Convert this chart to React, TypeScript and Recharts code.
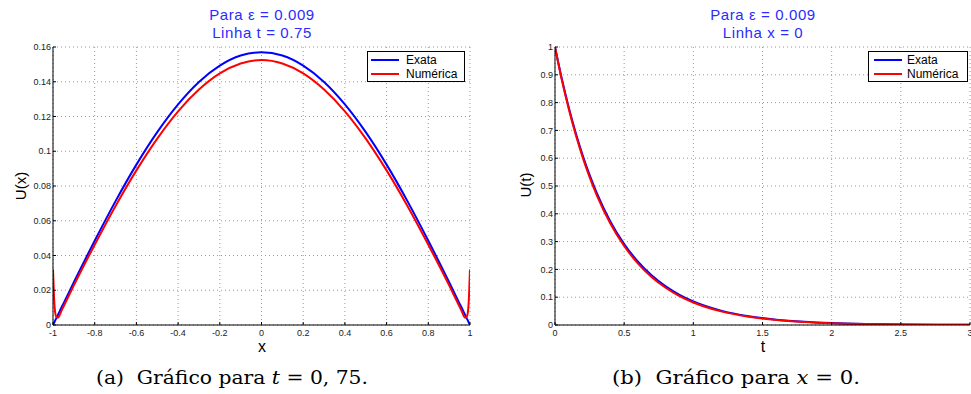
import React from 'react';
import { LineChart, Line, XAxis, YAxis, CartesianGrid, Legend, Label } from 'recharts';

// linha t = 0.75
const xPoints = [-1, -0.995, -0.99, -0.985, -0.976, -0.96, -0.95, -0.9, -0.8, -0.7, -0.6, -0.5, -0.4, -0.3, -0.2, -0.1, 0,
  0.1, 0.2, 0.3, 0.4, 0.5, 0.6, 0.7, 0.8, 0.9, 0.95, 0.96, 0.976, 0.985, 0.99, 0.995, 1];
const exataX = [0, 0.0012, 0.0025, 0.0037, 0.0059, 0.0099, 0.0123, 0.0246, 0.0485, 0.0713, 0.0923, 0.111, 0.127, 0.1399, 0.1493, 0.1551, 0.157,
  0.1551, 0.1493, 0.1399, 0.127, 0.111, 0.0923, 0.0713, 0.0485, 0.0246, 0.0123, 0.0099, 0.0059, 0.0037, 0.0025, 0.0012, 0];
const numericaX = [0.032, 0.016, 0.0075, 0.0048, 0.0042, 0.008, 0.0105, 0.0228, 0.0462, 0.0685, 0.089, 0.1073, 0.123, 0.1355, 0.1448, 0.1505, 0.1525,
  0.1505, 0.1448, 0.1355, 0.123, 0.1073, 0.089, 0.0685, 0.0462, 0.0228, 0.0105, 0.008, 0.0042, 0.0048, 0.0075, 0.016, 0.032];
const xTicks = [-1, -0.8, -0.6, -0.4, -0.2, 0, 0.2, 0.4, 0.6, 0.8, 1];
const uxTicks = [0, 0.02, 0.04, 0.06, 0.08, 0.1, 0.12, 0.14, 0.16];

// linha x = 0
const tPoints = [0, 0.05, 0.1, 0.15, 0.2, 0.25, 0.3, 0.4, 0.5, 0.6, 0.7, 0.8, 0.9, 1, 1.2, 1.4, 1.6, 1.8, 2, 2.25, 2.5, 2.75, 3];
const exataT = [1, 0.8839, 0.7814, 0.6907, 0.6105, 0.5397, 0.4771, 0.3727, 0.2912, 0.2276, 0.1778, 0.139, 0.1086, 0.0848,
  0.0518, 0.0316, 0.0193, 0.0118, 0.0072, 0.0039, 0.0021, 0.0011, 0.0006];
const numericaT = [1, 0.88, 0.776, 0.684, 0.603, 0.532, 0.469, 0.365, 0.284, 0.221, 0.172, 0.134, 0.104, 0.081,
  0.049, 0.03, 0.018, 0.011, 0.0066, 0.0036, 0.0019, 0.001, 0.0005];
const tTicks = [0, 0.5, 1, 1.5, 2, 2.5, 3];
const utTicks = [0, 0.1, 0.2, 0.3, 0.4, 0.5, 0.6, 0.7, 0.8, 0.9, 1];

const dataX = xPoints.map((x, i) => ({ x, exata: exataX[i], numerica: numericaX[i] }));
const dataT = tPoints.map((t, i) => ({ t, exata: exataT[i], numerica: numericaT[i] }));

const SANS = 'Liberation Sans, Arial, sans-serif';
const SERIF = "'DejaVu Serif', serif";
const tickStyle = { fontSize: 9, fill: '#222', fontFamily: SANS };

function BoxLegend({ width, lineLeft }: { width: number; lineLeft: number }) {
  const rows = [
    { name: 'Exata', color: '#0000ff', y: 9 },
    { name: 'Numérica', color: '#ff0000', y: 23 },
  ];
  return (
    <div style={{ position: 'relative', width, height: 31, border: '1.5px solid #000', boxSizing: 'border-box', background: '#fff', fontFamily: SANS, fontSize: 12 }}>
      {rows.map((r) => (
        <React.Fragment key={r.name}>
          <div style={{ position: 'absolute', left: lineLeft, top: r.y - 2, width: 28, height: 2, background: r.color }} />
          <div style={{ position: 'absolute', left: 38, top: r.y - 8, lineHeight: '14px', color: '#000' }}>{r.name}</div>
        </React.Fragment>
      ))}
    </div>
  );
}

const yLabel = (text: string, cx: number, cy: number) => (
  <Label
    content={() => (
      <text x={cx} y={cy} transform={`rotate(-90 ${cx} ${cy})`} textAnchor="middle" dominantBaseline="central"
        fontFamily={SANS} fontSize={15} fill="#000">{text}</text>
    )}
  />
);

const xLabel = (text: string, cx: number, cy: number) => (
  <Label
    content={() => (
      <text x={cx} y={cy} textAnchor="middle" dominantBaseline="central" fontFamily={SANS} fontSize={16} fill="#000">{text}</text>
    )}
  />
);

function Title({ cx, lines }: { cx: number; lines: string[] }) {
  return (
    <div style={{ position: 'absolute', left: cx - 100, top: 6, width: 200, textAlign: 'center', color: '#2b2bff', fontFamily: SANS, fontSize: 15, lineHeight: '18px', letterSpacing: 0.6 }}>
      {lines.map((l) => <div key={l}>{l}</div>)}
    </div>
  );
}

function Caption({ x, width, tag, variable, value }: { x: number; width: number; tag: string; variable: string; value: string }) {
  return (
    <text x={x} y={384} fontFamily={SERIF} fontSize={19} fill="#000" textLength={width} lengthAdjust="spacingAndGlyphs">
      {`(${tag})\u00a0\u00a0Gráfico para `}
      <tspan fontStyle="italic">{variable}</tspan>
      {` = ${value}`}
    </text>
  );
}

export default function App() {
  return (
    <div style={{ position: 'absolute', left: 0, top: 0, width: 971, height: 394, background: '#fff', overflow: 'hidden' }}>
      <div style={{ position: 'absolute', left: 0, top: 0 }}>
        <LineChart width={490} height={394} data={dataX} margin={{ top: 47, right: 20, bottom: 29, left: 0 }}>
          <CartesianGrid stroke="#999" strokeDasharray="1 3" />
          <XAxis dataKey="x" type="number" domain={[-1, 1]} ticks={xTicks} interval={0} tick={tickStyle}
            tickSize={-3} tickMargin={8} height={40} stroke="#000" allowDataOverflow label={xLabel('x', 262, 346)} />
          <YAxis type="number" domain={[0, 0.16]} ticks={uxTicks} interval={0} tick={tickStyle}
            tickSize={-3} tickMargin={5} width={53} stroke="#000" allowDataOverflow label={yLabel('U(x)', 20, 186)} />
          <Legend layout="vertical" align="center" verticalAlign="middle" wrapperStyle={{ left: 367, top: 51, width: 98, height: 31 }}
            content={() => <BoxLegend width={98} lineLeft={3} />} />
          <Line type="monotone" dataKey="exata" name="Exata" stroke="#0000ff" strokeWidth={2} dot={false} isAnimationActive={false} />
          <Line type="monotone" dataKey="numerica" name="Numérica" stroke="#ff0000" strokeWidth={2} dot={false} isAnimationActive={false} />
        </LineChart>
      </div>
      <div style={{ position: 'absolute', left: 490, top: 0 }}>
        <LineChart width={481} height={394} data={dataT} margin={{ top: 47, right: 1, bottom: 29, left: 0 }}>
          <CartesianGrid stroke="#999" strokeDasharray="1 3" />
          <XAxis dataKey="t" type="number" domain={[0, 3]} ticks={tTicks} interval={0} tick={tickStyle}
            tickSize={-3} tickMargin={8} height={40} stroke="#000" allowDataOverflow label={xLabel('t', 273, 346)} />
          <YAxis type="number" domain={[0, 1]} ticks={utTicks} interval={0} tick={tickStyle}
            tickSize={-3} tickMargin={5} width={65} stroke="#000" allowDataOverflow label={yLabel('U(t)', 35, 185)} />
          <Legend layout="vertical" align="center" verticalAlign="middle" wrapperStyle={{ left: 378, top: 51, width: 100, height: 31 }}
            content={() => <BoxLegend width={100} lineLeft={5} />} />
          <Line type="monotone" dataKey="exata" name="Exata" stroke="#0000ff" strokeWidth={2} dot={false} isAnimationActive={false} />
          <Line type="monotone" dataKey="numerica" name="Numérica" stroke="#ff0000" strokeWidth={2} dot={false} isAnimationActive={false} />
        </LineChart>
      </div>
      <Title cx={262} lines={['Para ε = 0.009', 'Linha t = 0.75']} />
      <Title cx={763} lines={['Para ε = 0.009', 'Linha x = 0']} />
      <svg width={971} height={394} style={{ position: 'absolute', left: 0, top: 0, pointerEvents: 'none' }}>
        <Caption x={96} width={272} tag="a" variable="t" value="0, 75." />
        <Caption x={612} width={248} tag="b" variable="x" value="0." />
      </svg>
    </div>
  );
}
